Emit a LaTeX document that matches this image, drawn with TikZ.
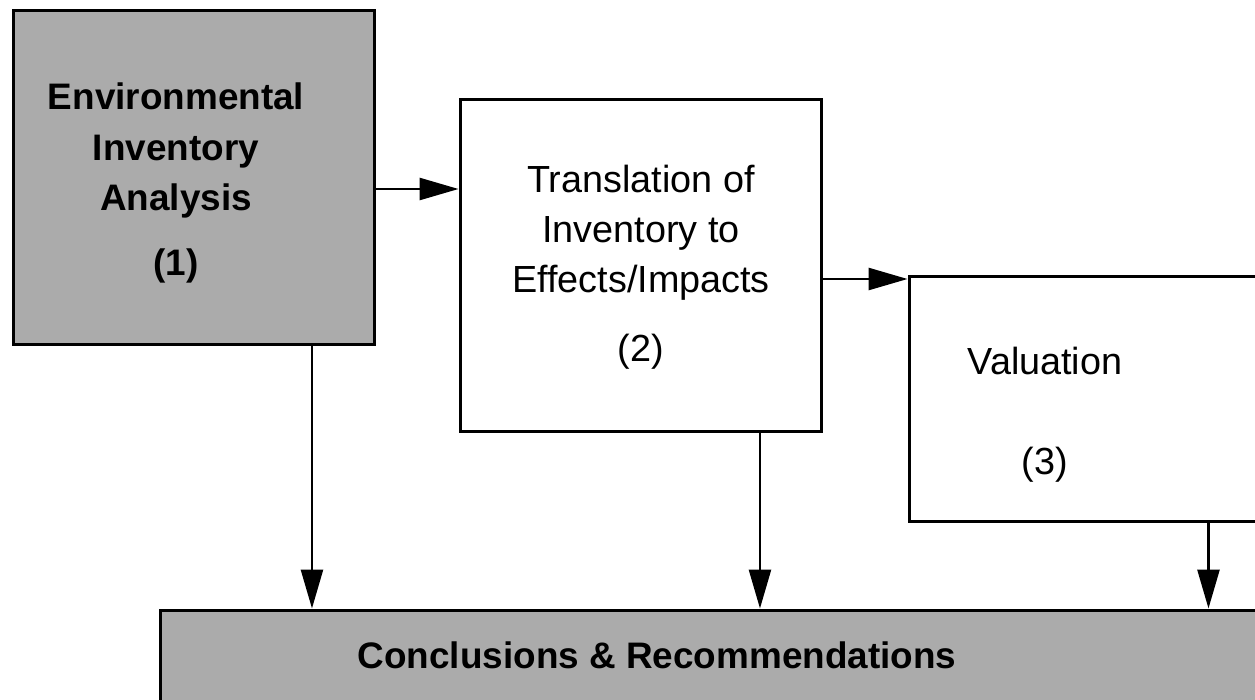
\documentclass[tikz,border=0pt]{standalone}
\usepackage{fontspec}
\setmainfont{Liberation Sans}
\usepackage{tikz}
\usetikzlibrary{arrows.meta}
\usetikzlibrary{positioning}

\begin{document}
\begin{tikzpicture}
		[x=0.02cm, y=-0.02cm,
		box/.style = {draw, line width=1.7pt, inner sep=0pt},
		grey/.style = {fill=black!33},
		txt/.style = {align=center, font=\fontsize{21.5}{28.5}\selectfont},
		btxt/.style = {align=center, font=\fontsize{21}{28.5}\selectfont\bfseries},
		arr/.style = {line width=1.5pt, -{Triangle[length=0.78cm, width=0.44cm]}}]
		\useasboundingbox (0,0) rectangle (1255,700);

		\path
		(194,177.5) node[box, grey, minimum width=7.24cm, minimum height=6.7cm](inv) {}
		(641,265.5) node[box, minimum width=7.24cm, minimum height=6.66cm](trans) {}
		(1105,399) node[box, minimum width=7.84cm, minimum height=4.92cm](val) {}
		(740,670) node[box, grey, minimum width=23.2cm, minimum height=2.4cm](concl) {};

		\node[btxt] (inv-t) at (176,183) {Environmental\\Inventory\\Analysis\\[0.3cm](1)};
		\node[txt] (trans-t) at (641,267) {Translation of\\Inventory to\\Effects/Impacts\\[0.38cm](2)};
		\node[txt] (val-t) at (1045,415) {Valuation\\[1cm](3)};
		\node[btxt] (concl-t) at (657,655) {Conclusions \& Recommendations};

		\coordinate (a1) at ([yshift=-0.23cm]inv.east);
		\coordinate (a2) at ([yshift=-0.27cm]trans.east);
		\coordinate (d1) at ([xshift=2.36cm]inv.south);
		\coordinate (d2) at ([xshift=2.38cm]trans.south);
		\coordinate (d3) at ([xshift=2.07cm]val.south);

		\draw[arr] (a1) to (a1 -| trans.west);
		\draw[arr] (a2) to (a2 -| val.west);
		\draw[arr] (d1) to (d1 |- concl.north);
		\draw[arr] (d2) to (d2 |- concl.north);
		\draw[arr] (d3) to (d3 |- concl.north);
	\end{tikzpicture}
\end{document}
